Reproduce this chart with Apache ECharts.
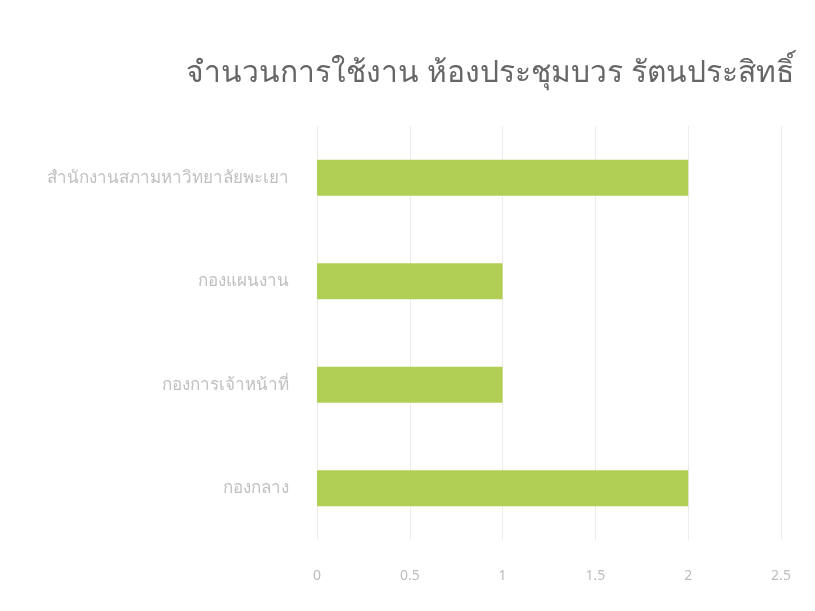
<!DOCTYPE html>
<html><head><meta charset="utf-8">
<script src="https://cdn.jsdelivr.net/npm/echarts@6/dist/echarts.min.js"></script>
<style>html,body{margin:0;padding:0;background:#fff}#c{width:815px;height:611px}</style>
</head><body><div id="c"></div>
<script>
const titleText = 'จำนวนการใช้งาน ห้องประชุมบวร รัตนประสิทธิ์';
const categories = ['กองกลาง', 'กองการเจ้าหน้าที่', 'กองแผนงาน', 'สำนักงานสภามหาวิทยาลัยพะเยา'];
const values = [2, 1, 1, 2];
const xTicks = [0, 0.5, 1, 1.5, 2, 2.5];

const chart = echarts.init(document.getElementById('c'));
chart.setOption({
  backgroundColor: '#fff',
  title: {
    text: titleText, left: 181, top: 53,
    textStyle: { fontFamily: 'Noto Sans, sans-serif', fontSize: 30, fontWeight: 'normal', color: '#666' }
  },
  grid: { left: 317, right: 34, top: 126, bottom: 71 },
  xAxis: {
    type: 'value', min: xTicks[0], max: xTicks[xTicks.length - 1], interval: 0.5,
    axisLine: { show: false }, axisTick: { show: false },
    splitLine: { lineStyle: { color: '#ececec' } },
    axisLabel: { margin: 29, color: '#bdbdbd', fontSize: 14, fontFamily: 'Noto Sans, sans-serif' }
  },
  yAxis: {
    type: 'category', data: categories,
    axisLine: { show: false }, axisTick: { show: false },
    axisLabel: { margin: 28, color: '#c0c0c0', fontSize: 17, fontFamily: 'Noto Sans, sans-serif' }
  },
  series: [{
    type: 'bar', data: values, barWidth: 36,
    itemStyle: { color: '#b2cf55' }
  }]
});
</script></body></html>
